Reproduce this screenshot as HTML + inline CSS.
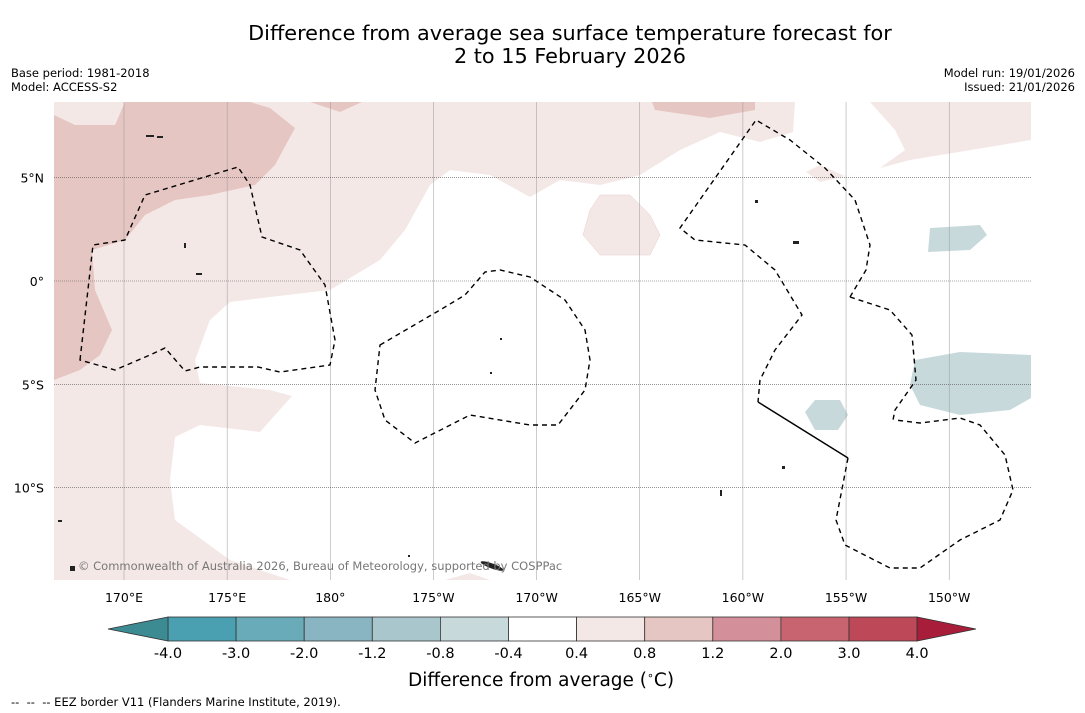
<!DOCTYPE html>
<html><head><meta charset="utf-8">
<style>
body{margin:0;background:#fff;font-family:"DejaVu Sans","Liberation Sans",sans-serif;}
#wrap{position:relative;width:1085px;height:713px;overflow:hidden;background:#fff;}
.t{position:absolute;color:#000;white-space:nowrap;}
svg text{font-family:"DejaVu Sans","Liberation Sans",sans-serif;}
</style></head>
<body>
<div id="wrap">
<div class="t" style="left:0;width:1140px;top:22px;text-align:center;font-size:20.8px;line-height:23px;">Difference from average sea surface temperature forecast for<br>2 to 15 February 2026</div>
<div class="t" style="left:11px;top:66px;font-size:11.5px;line-height:14px;">Base period: 1981-2018<br>Model: ACCESS-S2</div>
<div class="t" style="right:10px;top:66px;font-size:11.5px;line-height:14px;text-align:right;">Model run: 19/01/2026<br>Issued: 21/01/2026</div>
<div class="t" style="left:408px;top:669px;font-size:18.5px;">Difference from average (<sup style="font-size:11px">∘</sup>C)</div>
<div class="t" style="left:11px;top:695px;font-size:11.5px;">-- &nbsp;-- &nbsp;-- EEZ border V11 (Flanders Marine Institute, 2019).</div>
<svg id="svg" width="1085" height="713" style="position:absolute;left:0;top:0">
 <defs><clipPath id="mc"><rect x="54" y="102" width="977" height="478"/></clipPath></defs>
 <g clip-path="url(#mc)">
  <rect x="54" y="102" width="977" height="478" fill="#f4e8e6"/>
  <path fill="#fff" d="M290,580 L230,560 L175,520 L170,480 L175,437 L200,425 L260,432 L292,396 L270,390 L200,383 L195,360 L210,320 L230,302 L270,297 L330,290 L380,260 L405,230 L430,185 L450,170 L490,175 L530,197 L560,180 L600,185 L640,175 L680,150 L720,132 L760,142 L793,132 L795,102 L870,102 L895,130 L905,150 L880,168 L845,176 L820,165 L806,172 L820,182 L880,168 L910,160 L1031,140 L1031,580 L490,580 L470,573 L445,580 Z"/>
  <path fill="#e6c6c2" d="M54,115 L75,125 L115,125 L125,102 L250,102 L270,108 L295,128 L275,165 L255,185 L210,195 L175,200 L145,215 L125,240 L92,250 L95,290 L112,330 L100,355 L80,370 L54,380 Z M310,102 L340,112 L362,102 Z M652,102 L655,110 L710,118 L755,110 L755,102 Z"/>
  <path fill="#f4e8e6" stroke="#e6d0cc" stroke-width="0.5" d="M600,195 L630,195 L650,215 L660,235 L650,255 L600,255 L583,235 L590,210 Z"/>
  <path fill="#c8d9dc" d="M930,228 L980,225 L987,235 L970,250 L928,252 Z M915,360 L960,352 L1031,355 L1031,398 L1010,410 L960,415 L920,405 L910,385 Z M815,400 L840,400 L848,415 L838,430 L815,430 L805,412 Z"/>
  <g id="grid"></g>
  <g fill="none" stroke="#000" stroke-width="1.4" stroke-dasharray="5,4">
   <path d="M80,360 L93,245 L125,240 L145,195 L238,167 L250,185 L262,237 L300,250 L325,285 L335,340 L330,365 L280,372 L258,367 L200,367 L185,371 L165,348 L150,355 L115,370 Z"/>
   <path d="M380,345 L440,310 L465,295 L485,272 L500,270 L530,277 L565,300 L585,330 L590,360 L585,390 L558,425 L530,425 L470,415 L415,443 L385,420 L375,390 Z"/>
   <path d="M850,297 L866,270 L870,245 L855,200 L825,168 L790,140 L756,120 L680,228 L695,240 L745,245 L775,270 L802,315 L775,350 L760,380 L758,402"/>
   <path d="M848,458 L836,520 L845,545 L890,568 L920,568 L960,540 L1000,520 L1013,490 L1005,455 L980,425 L960,418 L920,423 L895,420"/>
   <path d="M850,297 L890,310 L912,335 L916,380 L895,410 L893,420"/>
  </g>
  <path d="M758,402 L848,458" stroke="#000" stroke-width="1.4" fill="none"/>
  <g fill="#222">
   <ellipse cx="492" cy="566" rx="12" ry="2.5" transform="rotate(20 492 566)"/>
   <rect x="146" y="135" width="8" height="2"/><rect x="157" y="136" width="6" height="2"/><rect x="184" y="243" width="2" height="5"/><rect x="196" y="273" width="6" height="2"/>
   <rect x="755" y="200" width="3" height="3"/><rect x="793" y="241" width="6" height="3"/><rect x="720" y="490" width="2" height="6"/>
   <rect x="58" y="520" width="4" height="2"/><rect x="70" y="566" width="5" height="5"/><rect x="782" y="466" width="3" height="3"/>
   <rect x="500" y="338" width="2" height="2"/><rect x="490" y="372" width="2" height="2"/><rect x="408" y="555" width="2" height="2"/>
  </g>
  <text x="78" y="570" font-size="11.5" fill="#777">© Commonwealth of Australia 2026, Bureau of Meteorology, supported by COSPPac</text>
 </g>
 <g id="xt"></g>
 <g id="yt"></g>
 <g id="cb"></g>
</svg>
</div>
<script>
const lonTicks=[170,175,180,185,190,195,200,205,210];
const lonLabels=["170°E","175°E","180°","175°W","170°W","165°W","160°W","155°W","150°W"];
const latTicks=[5,0,-5,-10];
const latLabels=["5°N","0°","5°S","10°S"];
const cbBounds=["-4.0","-3.0","-2.0","-1.2","-0.8","-0.4","0.4","0.8","1.2","2.0","3.0","4.0"];
const cbColors=["#4aa0b0","#6aabb9","#88b5c1","#a8c6cc","#c8d9dc","#ffffff","#f4e8e6","#e6c6c2","#d4909a","#c76470","#bd4858"];
const NS="http://www.w3.org/2000/svg";
function xLon(l){return 124+(l-170)*20.63;}
function yLat(l){return 281-l*20.66;}
function mk(t,a,p){const e=document.createElementNS(NS,t);for(const k in a)e.setAttribute(k,a[k]);p.appendChild(e);return e;}
const grid=document.getElementById('grid'),xt=document.getElementById('xt'),yt=document.getElementById('yt'),cb=document.getElementById('cb');
lonTicks.forEach((l,i)=>{
 const x=xLon(l);
 const g=mk('line',{x1:x,x2:x,y1:102,y2:580,stroke:'#999','stroke-width':0.5},grid);
 
 
 const t=mk('text',{x:x,y:602,'text-anchor':'middle','font-size':12.5},xt);t.textContent=lonLabels[i];
 
 
});
latTicks.forEach((l,i)=>{
 const y=yLat(l);
 const g=mk('line',{x1:54,x2:1031,y1:y,y2:y,stroke:'#555','stroke-width':0.6,'stroke-dasharray':'1,1'},grid);
 
 
 const t=mk('text',{x:44,y:y+5,'text-anchor':'end','font-size':12.5},yt);t.textContent=latLabels[i];
 
 
});
const cx0=168,cw=68.1,cy=617,ch=24;
cbColors.forEach((c,i)=>{
 const r=mk('rect',{x:cx0+i*cw,y:cy,width:cw,height:ch,fill:c,stroke:'#333','stroke-width':0.8},cb);
 
 
});
const la=mk('path',{d:`M${cx0},${cy} L108,${cy+ch/2} L${cx0},${cy+ch} Z`,fill:'#3c8a92',stroke:'#333','stroke-width':0.8},cb);


const xe=cx0+cbColors.length*cw;
const ra=mk('path',{d:`M${xe},${cy} L976,${cy+ch/2} L${xe},${cy+ch} Z`,fill:'#a81e3a',stroke:'#333','stroke-width':0.8},cb);


cbBounds.forEach((b,i)=>{
 const t=mk('text',{x:cx0+i*cw,y:658,'text-anchor':'middle','font-size':14.5},cb);t.textContent=b;
 
 
});
</script>
</body></html>
